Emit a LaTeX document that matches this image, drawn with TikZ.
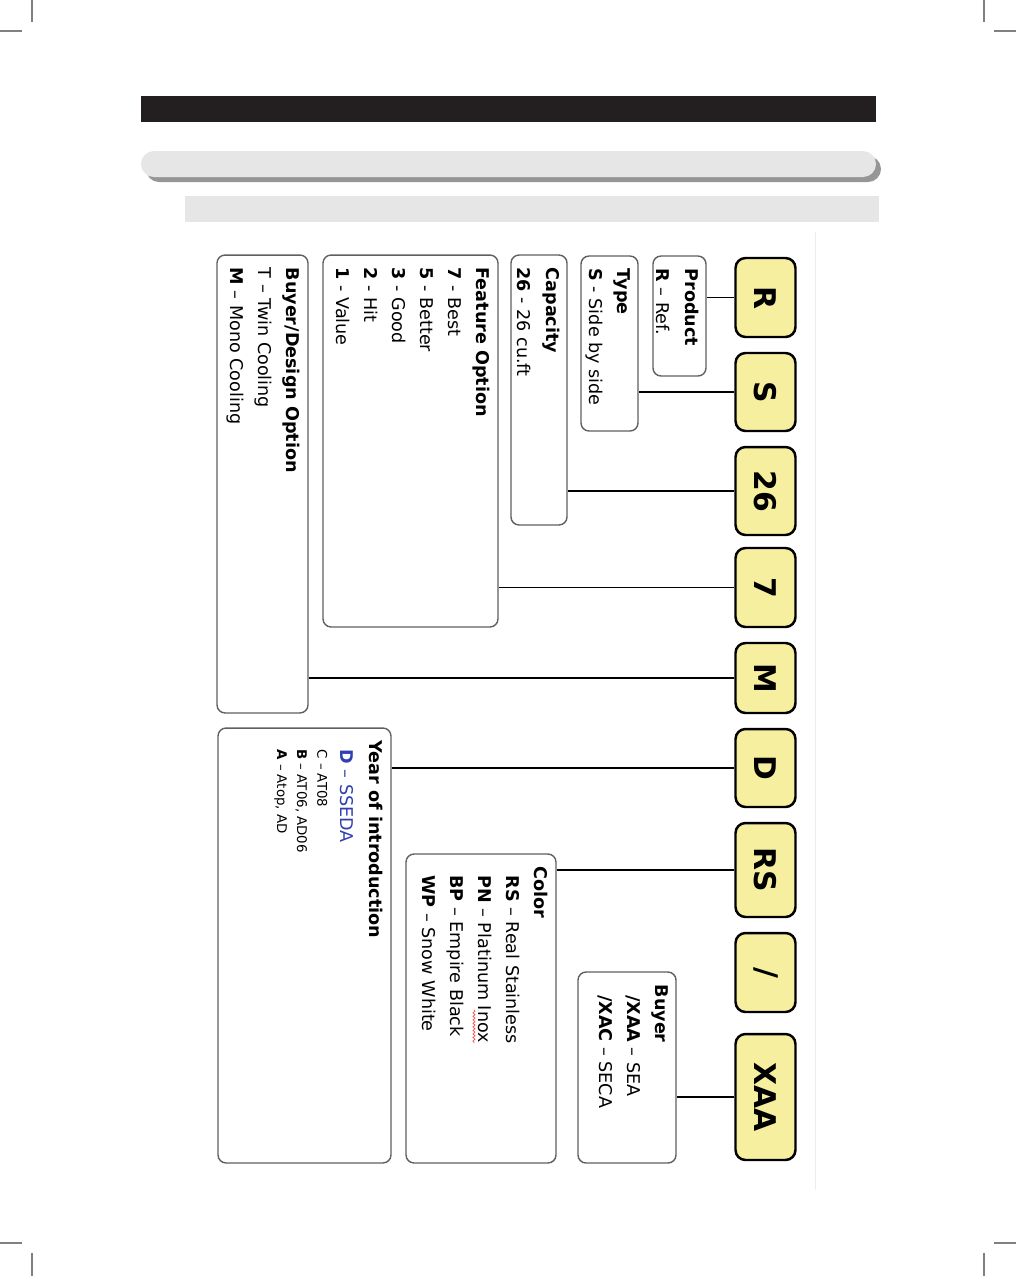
\documentclass[tikz,border=0pt]{standalone}
\usepackage{fontspec}
\setmainfont{DejaVu Sans}
\usepackage{tikz}
\usetikzlibrary{positioning,decorations.pathmorphing}
\definecolor{codefill}{RGB}{246,239,160}
\definecolor{boxline}{RGB}{96,96,96}
\definecolor{barblack}{RGB}{35,31,32}
\definecolor{bargray}{RGB}{230,230,230}
\definecolor{shadowgray}{RGB}{150,150,150}
\definecolor{sedablue}{RGB}{48,64,176}

\begin{document}
\begin{tikzpicture}[x=0.02cm,y=-0.02cm,
    code/.style={draw,line width=1.4pt,fill=codefill,rounded corners=0.2cm,minimum width=1.2cm,inner sep=0pt,font=\fontsize{17}{20}\selectfont\bfseries},
    info/.style={draw=boxline,line width=0.8pt,rounded corners=0.16cm,inner sep=0pt},
    infotext/.style={rotate=-90,anchor=north west,inner sep=0pt,align=left,font=\fontsize{10}{16}\selectfont},
    link/.style={line width=0.6pt}]
    \useasboundingbox (0,0) rectangle (1016,1276);
    % crop marks
    \draw[gray,line width=0.6pt] (32,0) -- (32,22) (0,31) -- (22,31)
        (984,0) -- (984,22) (994,31) -- (1016,31)
        (32,1253) -- (32,1276) (0,1243) -- (22,1243)
        (984,1253) -- (984,1276) (994,1243) -- (1016,1243);
    % header bars
    \fill[barblack] (141,96) rectangle (876,122);
    \fill[shadowgray,rounded corners=0.26cm] (146,156) rectangle (881,182);
    \fill[bargray,rounded corners=0.26cm] (141,151) rectangle (876,177);
    \fill[bargray] (185,196) rectangle (879,222);
    \draw[black!7] (815,232) -- (815,1190);
    % code boxes
    \node[code,minimum height=1.58cm] (r) at (765.5,297.5) {\rotatebox{-90}{R}};
    \node[code,minimum height=1.56cm] (s) at (765.5,392) {\rotatebox{-90}{S}};
    \node[code,minimum height=1.76cm] (c26) at (765.5,491) {\rotatebox{-90}{26}};
    \node[code,minimum height=1.58cm] (c7) at (765.5,587.5) {\rotatebox{-90}{7}};
    \node[code,minimum height=1.40cm] (m) at (765.5,678) {\rotatebox{-90}{M}};
    \node[code,minimum height=1.56cm] (d) at (765.5,768) {\rotatebox{-90}{D}};
    \node[code,minimum height=1.88cm] (rs) at (765.5,870) {\rotatebox{-90}{RS}};
    \node[code,minimum height=1.58cm] (slash) at (765.5,972.5) {\rotatebox{-90}{/}};
    \node[code,minimum height=2.52cm] (xaa) at (765.5,1097) {\rotatebox{-90}{XAA}};
    % legend boxes
    \node[info,minimum width=1.06cm,minimum height=2.40cm] (product) at (679.5,316) {};
    \node[info,minimum width=1.14cm,minimum height=3.50cm] (type) at (609.5,343.5) {};
    \node[info,minimum width=1.12cm,minimum height=5.40cm] (capacity) at (539,390) {};
    \node[info,minimum width=3.50cm,minimum height=7.44cm] (feature) at (410.5,441) {};
    \node[info,minimum width=1.82cm,minimum height=9.16cm] (design) at (262.5,484) {};
    \node[info,minimum width=3.46cm,minimum height=8.70cm] (year) at (304.5,945.5) {};
    \node[info,minimum width=3.00cm,minimum height=6.18cm] (color) at (481,1008.5) {};
    \node[info,minimum width=1.96cm,minimum height=3.82cm] (buyer) at (627,1067.5) {};
    % legend texts
    \node[infotext] (productT) at ([xshift=-0.16cm,yshift=-0.26cm]product.north east)
        {\textbf{Product}\\\textbf{R} – Ref.};
    \node[infotext] (typeT) at ([xshift=-0.16cm,yshift=-0.26cm]type.north east)
        {\textbf{Type}\\\textbf{S} - Side by side};
    \node[infotext] (capacityT) at ([xshift=-0.16cm,yshift=-0.26cm]capacity.north east)
        {\textbf{Capacity}\\\textbf{26} - 26 cu.ft};
    \node[infotext] (featureT) at ([xshift=-0.16cm,yshift=-0.26cm]feature.north east)
        {\textbf{Feature Option}\\\textbf{7} - Best\\\textbf{5} - Better\\\textbf{3} - Good\\\textbf{2} - Hit\\\textbf{1} - Value};
    \node[infotext] (designT) at ([xshift=-0.16cm,yshift=-0.26cm]design.north east)
        {\textbf{Buyer/Design Option}\\T – Twin Cooling\\\textbf{M} – Mono Cooling};
    \node[infotext] (yearT) at ([xshift=-0.16cm,yshift=-0.26cm]year.north east)
        {\textbf{Year of introduction}\\[1pt]
         \hspace*{5pt}\textcolor{sedablue}{\textbf{D} – SSEDA}\\[-3pt]
         \hspace*{5pt}{\fontsize{7.6}{9}\selectfont C – AT08}\\[-4.6pt]
         \hspace*{5pt}{\fontsize{7.6}{9}\selectfont\textbf{B} – AT06, AD06}\\[-4.6pt]
         \hspace*{5pt}{\fontsize{7.6}{9}\selectfont\textbf{A} – Atop, AD}};
    \node[infotext] (colorT) at ([xshift=-0.16cm,yshift=-0.26cm]color.north east)
        {\textbf{Color}\\\hspace*{5pt}\textbf{RS} – Real Stainless\\\hspace*{5pt}\textbf{PN} – Platinum Inox\\\hspace*{5pt}\textbf{BP} – Empire Black\\\hspace*{5pt}\textbf{WP} – Snow White};
    \node[infotext] (buyerT) at ([xshift=-0.16cm,yshift=-0.26cm]buyer.north east)
        {\textbf{Buyer}\\\hspace*{6pt}\textbf{/XAA} – SEA\\\hspace*{6pt}\textbf{/XAC} – SECA};
    \draw[red!70,line width=0.4pt,decorate,decoration={snake,amplitude=0.6pt,segment length=2pt}]
        (474,1010) -- (474,1043);
    % connectors
    \draw[link] (r.west) -- (r.west -| product.east);
    \draw[link] (s.west) -- (s.west -| type.east);
    \draw[link] (c26.west) -- (c26.west -| capacity.east);
    \draw[link] (c7.west) -- (c7.west -| feature.east);
    \draw[link] (m.west) -- (m.west -| design.east);
    \draw[link] (d.west) -- (d.west -| year.east);
    \draw[link] (rs.west) -- (rs.west -| color.east);
    \draw[link] (xaa.west) -- (xaa.west -| buyer.east);
\end{tikzpicture}
\end{document}
